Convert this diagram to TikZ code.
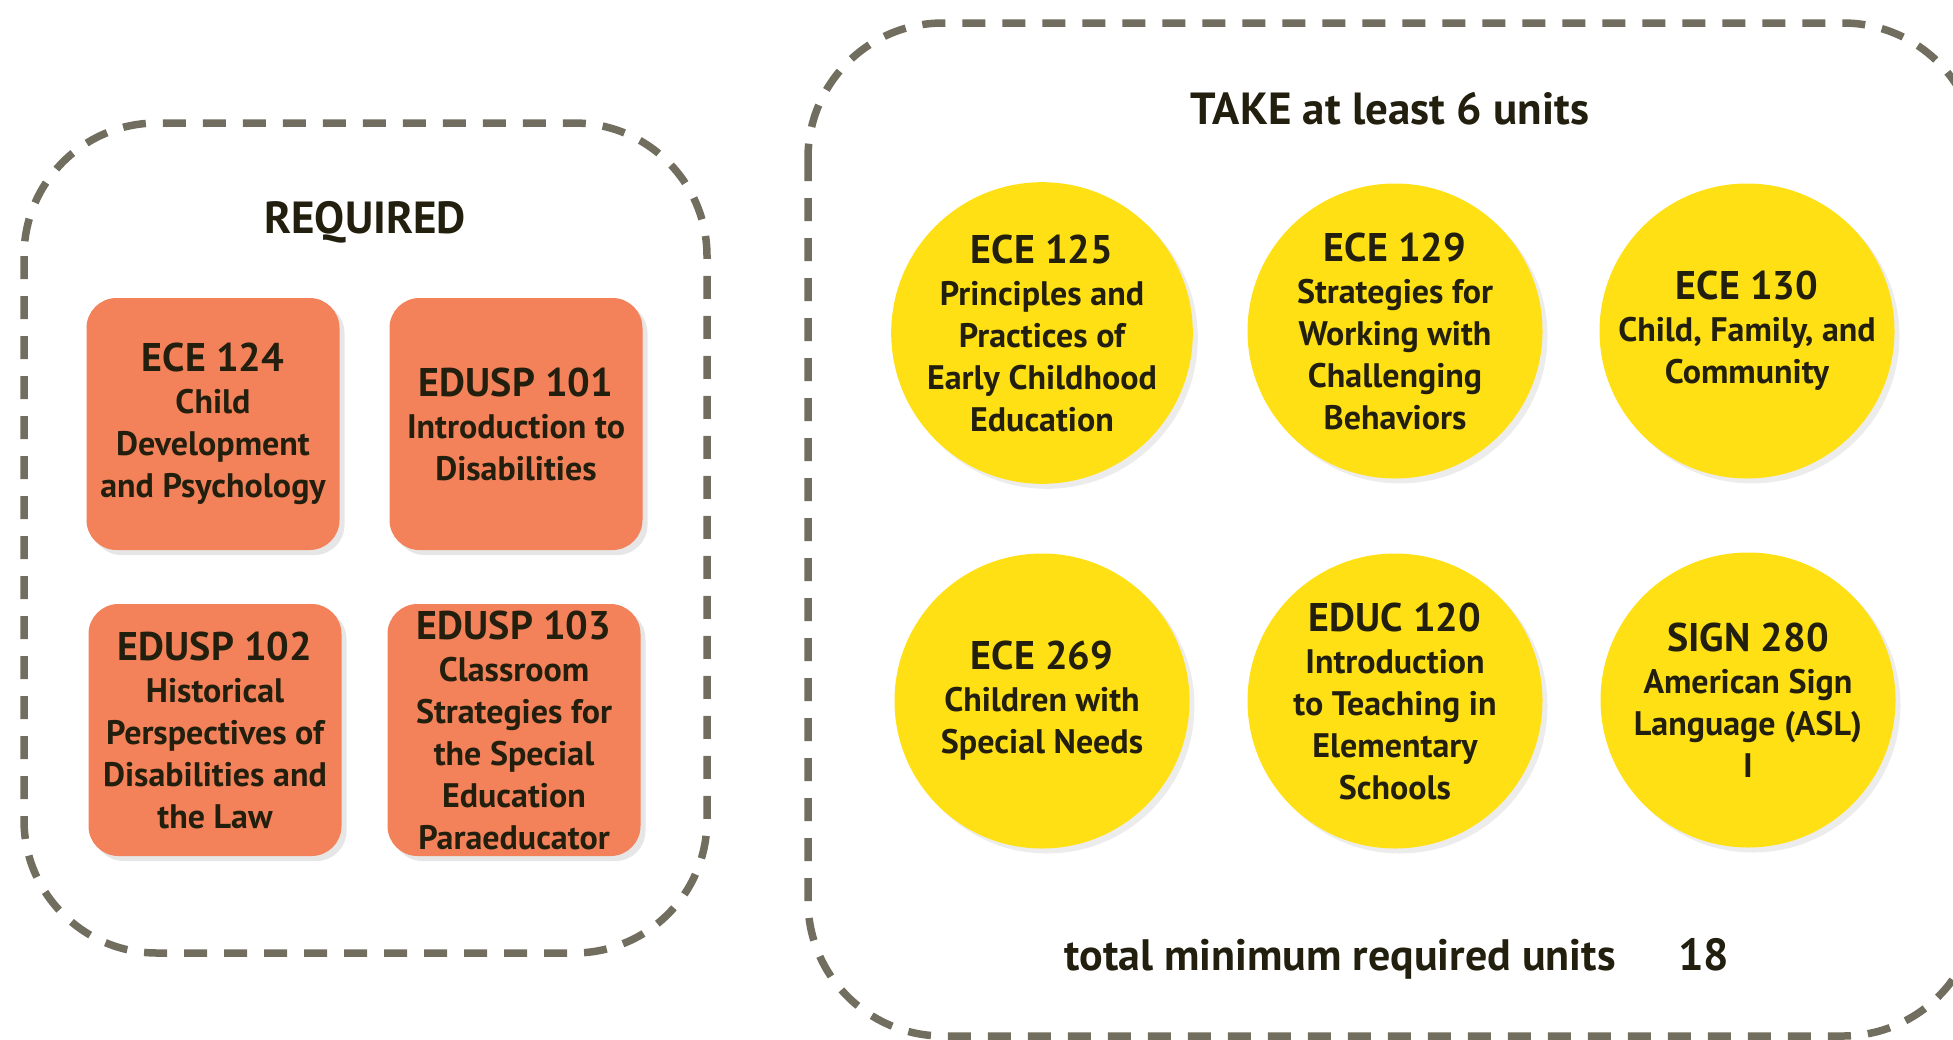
\documentclass[tikz,border=0pt]{standalone}
\usepackage{fontspec}
\setmainfont{PT Sans}
\usepackage{xcolor}
\usetikzlibrary{shadows}
\definecolor{orangebox}{RGB}{243,129,89}
\definecolor{yellowdot}{RGB}{254,224,21}
\definecolor{framegray}{RGB}{113,110,96}
\definecolor{inkbrown}{RGB}{35,31,14}
\newcommand{\course}[1]{{\fontsize{40}{42}\selectfont #1}}

\begin{document}
\begin{tikzpicture}[x=1pt,y=-1pt,
  frame/.style={draw=framegray,line width=7.5pt,dash pattern=on 23pt off 17pt,rounded corners=133pt},
  req/.style={rectangle,fill=orangebox,rounded corners=30pt,minimum width=253pt,minimum height=252pt,
    inner sep=0pt,align=center,text=inkbrown,font=\bfseries\fontsize{34}{42}\selectfont,
    drop shadow={shadow xshift=5pt,shadow yshift=-5pt,opacity=.2}},
  opt/.style={circle,fill=yellowdot,minimum size=295pt,inner sep=0pt,align=center,text=inkbrown,
    font=\bfseries\fontsize{34}{42}\selectfont,
    drop shadow={shadow xshift=5pt,shadow yshift=-5pt,opacity=.15}},
  title/.style={font=\bfseries\fontsize{45}{50}\selectfont,text=inkbrown}
]
\useasboundingbox (0,0) rectangle (1953,1039);

% required block
\draw[frame] (24,123) rectangle (707,953);
\node[title,anchor=base] (reqtitle) at (365,233) {REQUIRED};

\node[req] (ece124) at (213,424) {\course{ECE 124}\\Child\\Development\\and Psychology};
\node[req] (edusp101) at (516,424) {\course{EDUSP 101}\\Introduction to\\Disabilities};
\node[req] (edusp102) at (215,730) {\course{EDUSP 102}\\Historical\\Perspectives of\\Disabilities and\\the Law};
\node[req] (edusp103) at (514,730) {\course{EDUSP 103}\\Classroom\\Strategies for\\the Special\\Education\\Paraeducator};

% electives block
\draw[frame,rounded corners=135pt] (808,23) rectangle (1978,1036);
\node[title,anchor=base] (taketitle) at (1390,124) {TAKE at least 6 units};

\node[opt] (ece125) at (1042,333) {\course{ECE 125}\\Principles and\\Practices of\\Early Childhood\\Education};
\node[opt] (ece129) at (1395,331) {\course{ECE 129}\\Strategies for\\Working with\\Challenging\\Behaviors};
\node[opt] (ece130) at (1747,331) {\course{ECE 130}\\Child, Family, and\\Community};

\node[opt] (ece269) at (1042,701) {\course{ECE 269}\\Children with\\Special Needs};
\node[opt] (educ120) at (1395,701) {\course{EDUC 120}\\Introduction\\to Teaching in\\Elementary\\Schools};
\node[opt] (sign280) at (1748,700) {\course{SIGN 280}\\American Sign\\Language (ASL)\\I};

\node[title,anchor=base west,inner sep=0pt,font=\bfseries\fontsize{44}{50}\selectfont] (total) at (1064,970) {total minimum required units};
\node[title,anchor=base west,inner sep=0pt] (units) at (1678,970) {18};
\end{tikzpicture}
\end{document}
